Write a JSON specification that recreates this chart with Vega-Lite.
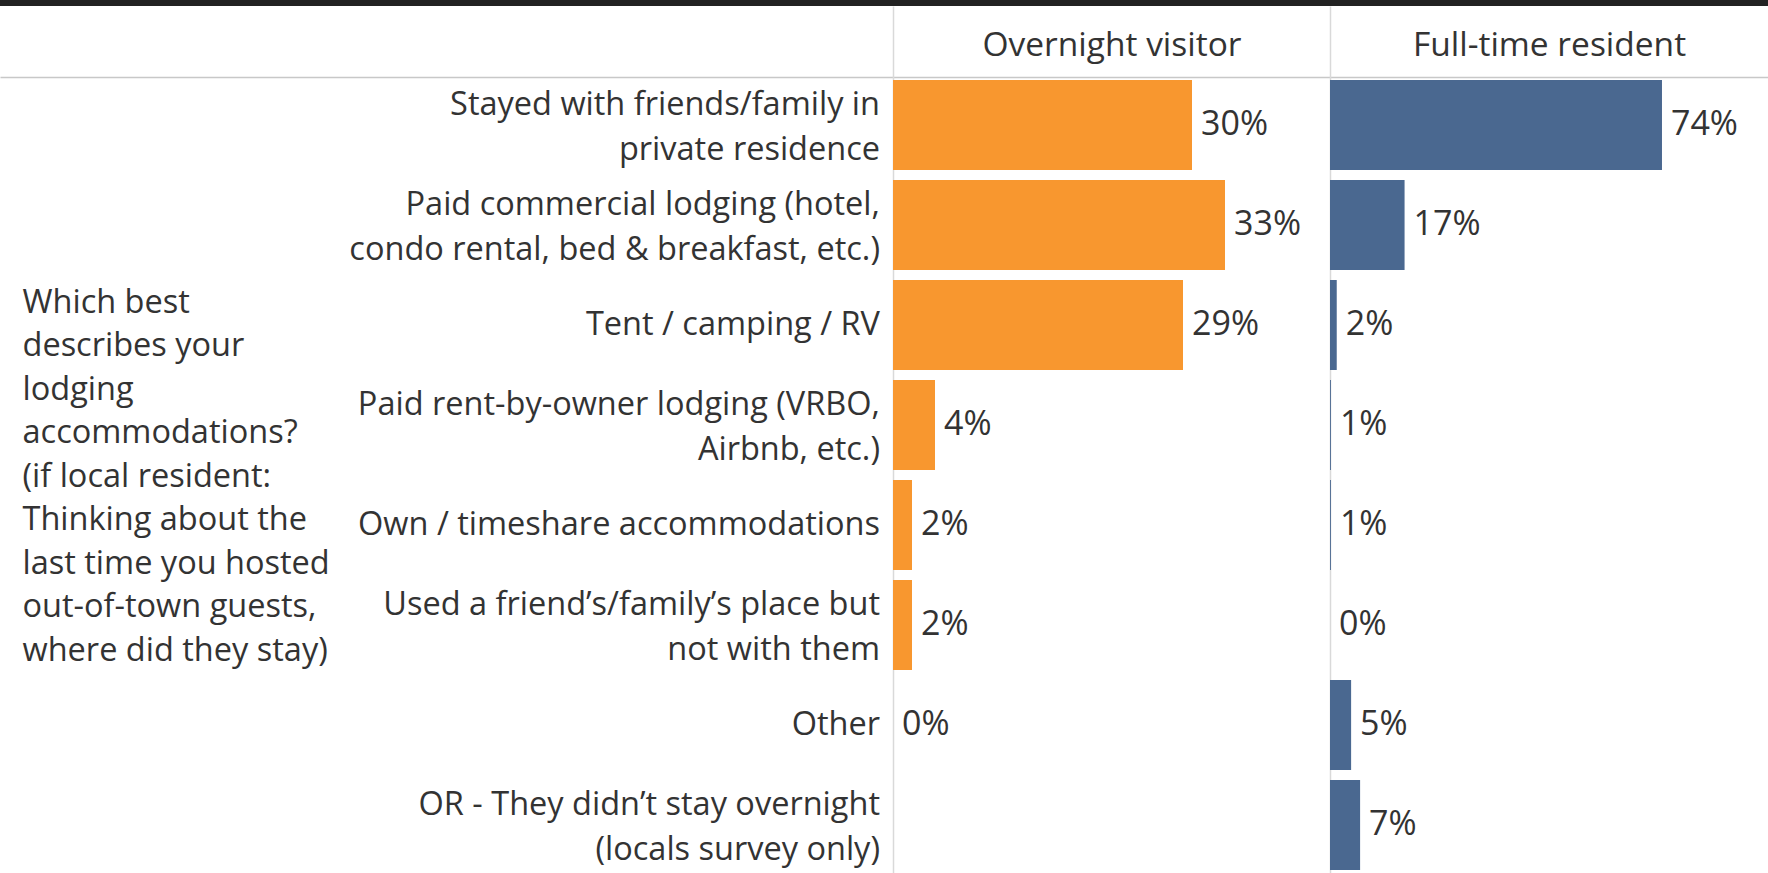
{
  "$schema": "https://vega.github.io/schema/vega-lite/v6.json",
  "background": "#222222",
  "padding": {"top": 6, "left": 0, "right": 0, "bottom": 0},
  "autosize": {"type": "pad"},
  "spacing": 0,
  "bounds": "flush",
  "config": {"view": {"stroke": null, "fill": "#ffffff"}, "font": "Open Sans"},
  "datasets": {
    "rows": [
      {"group": "Overnight visitor", "cat": "Stayed with friends/family in|private residence", "value": 29.9, "label": "30%"},
      {"group": "Overnight visitor", "cat": "Paid commercial lodging (hotel,|condo rental, bed & breakfast, etc.)", "value": 33.2, "label": "33%"},
      {"group": "Overnight visitor", "cat": "Tent / camping / RV", "value": 29.0, "label": "29%"},
      {"group": "Overnight visitor", "cat": "Paid rent-by-owner lodging (VRBO,|Airbnb, etc.)", "value": 4.2, "label": "4%"},
      {"group": "Overnight visitor", "cat": "Own / timeshare accommodations", "value": 1.9, "label": "2%"},
      {"group": "Overnight visitor", "cat": "Used a friend’s/family’s place but|not with them", "value": 1.9, "label": "2%"},
      {"group": "Overnight visitor", "cat": "Other", "value": 0, "label": "0%"},
      {"group": "Full-time resident", "cat": "Stayed with friends/family in|private residence", "value": 73.9, "label": "74%"},
      {"group": "Full-time resident", "cat": "Paid commercial lodging (hotel,|condo rental, bed & breakfast, etc.)", "value": 16.6, "label": "17%"},
      {"group": "Full-time resident", "cat": "Tent / camping / RV", "value": 1.5, "label": "2%"},
      {"group": "Full-time resident", "cat": "Paid rent-by-owner lodging (VRBO,|Airbnb, etc.)", "value": 0.2, "label": "1%"},
      {"group": "Full-time resident", "cat": "Own / timeshare accommodations", "value": 0.2, "label": "1%"},
      {"group": "Full-time resident", "cat": "Used a friend’s/family’s place but|not with them", "value": 0, "label": "0%"},
      {"group": "Full-time resident", "cat": "Other", "value": 4.7, "label": "5%"},
      {"group": "Full-time resident", "cat": "OR - They didn’t stay overnight|(locals survey only)", "value": 6.7, "label": "7%"}
    ]
  },
  "data": {"name": "rows"},
  "resolve": {"scale": {"x": "independent", "y": "independent"}},
  "hconcat": [
    {
      "width": 893,
      "height": 867,
      "transform": [{"filter": "datum.group === 'Full-time resident'"}],
      "encoding": {
        "x": {"value": "width"},
        "y": {
          "field": "cat", "type": "nominal", "sort": null, "bandPosition": 0.5,
          "scale": {"type": "band", "domain": ["Stayed with friends/family in|private residence", "Paid commercial lodging (hotel,|condo rental, bed & breakfast, etc.)", "Tent / camping / RV", "Paid rent-by-owner lodging (VRBO,|Airbnb, etc.)", "Own / timeshare accommodations", "Used a friend’s/family’s place but|not with them", "Other", "OR - They didn’t stay overnight|(locals survey only)"], "paddingInner": 0.1, "paddingOuter": 0.385, "align": 0.961},
          "axis": {
            "labels": false, "ticks": false, "domain": false,
            "grid": true, "bandPosition": -0.033, "gridColor": "#c8c8c8", "gridWidth": 1.5,
            "gridOpacity": {"condition": {"test": "datum.value === 'Stayed with friends/family in|private residence'", "value": 1}, "value": 0},
            "title": ["Which best", "describes your", "lodging", "accommodations?", "(if local resident:", "Thinking about the", "last time you hosted", "out-of-town guests,", "where did they stay)"],
            "titleAngle": 0, "titleAlign": "left", "titleBaseline": "alphabetic", "titleX": 22, "titleY": 306,
            "titleFontSize": 32.5, "titleFontWeight": "normal", "titleColor": "#333333", "titleFont": "Open Sans", "titleLineHeight": 43.5
          }
        },
        "text": {"field": "cat"}
      },
      "layer": [
        {
          "transform": [{"filter": "indexof(datum.cat, '|') < 0"}],
          "mark": {"type": "text", "align": "right", "baseline": "middle", "dx": -13, "fontSize": 32.5, "lineBreak": "|", "lineHeight": 45, "color": "#333333", "font": "Open Sans"}
        },
        {
          "transform": [{"filter": "indexof(datum.cat, '|') >= 0"}],
          "mark": {"type": "text", "align": "right", "baseline": "middle", "dx": -13, "dy": -20, "fontSize": 32.5, "lineBreak": "|", "lineHeight": 45, "color": "#333333", "font": "Open Sans"}
        }
      ]
    },
    {
      "width": 437,
      "height": 867,
      "transform": [{"filter": "datum.group === 'Overnight visitor'"}],
      "encoding": {
        "y": {
          "field": "cat", "type": "nominal", "sort": null,
          "scale": {"type": "band", "domain": ["Stayed with friends/family in|private residence", "Paid commercial lodging (hotel,|condo rental, bed & breakfast, etc.)", "Tent / camping / RV", "Paid rent-by-owner lodging (VRBO,|Airbnb, etc.)", "Own / timeshare accommodations", "Used a friend’s/family’s place but|not with them", "Other", "OR - They didn’t stay overnight|(locals survey only)"], "paddingInner": 0.1, "paddingOuter": 0.385, "align": 0.961},
          "axis": {
            "labels": false, "ticks": false, "domain": true, "domainColor": "#d9d9d9", "domainWidth": 1.5,
            "grid": true, "bandPosition": -0.033, "gridColor": "#c8c8c8", "gridWidth": 1.5,
            "gridOpacity": {"condition": {"test": "datum.value === 'Stayed with friends/family in|private residence'", "value": 1}, "value": 0},
            "title": null
          }
        },
        "x": {
          "field": "value", "type": "quantitative",
          "scale": {"domain": [0, 43.7], "nice": false, "zero": true},
          "axis": {"orient": "top", "labels": false, "ticks": false, "domain": false, "grid": false, "title": "Overnight visitor", "titleY": 49, "titleBaseline": "alphabetic", "titleFontSize": 33.5, "titleFontWeight": "normal", "titleColor": "#333333", "titleFont": "Open Sans"}
        }
      },
      "layer": [
        {"mark": {"type": "bar", "color": "#F8972F"}},
        {"mark": {"type": "text", "align": "left", "baseline": "middle", "dx": 9, "fontSize": 34, "color": "#333333", "font": "Open Sans"}, "encoding": {"text": {"field": "label"}}}
      ]
    },
    {
      "width": 438,
      "height": 867,
      "transform": [{"filter": "datum.group === 'Full-time resident'"}],
      "encoding": {
        "y": {
          "field": "cat", "type": "nominal", "sort": null,
          "scale": {"type": "band", "domain": ["Stayed with friends/family in|private residence", "Paid commercial lodging (hotel,|condo rental, bed & breakfast, etc.)", "Tent / camping / RV", "Paid rent-by-owner lodging (VRBO,|Airbnb, etc.)", "Own / timeshare accommodations", "Used a friend’s/family’s place but|not with them", "Other", "OR - They didn’t stay overnight|(locals survey only)"], "paddingInner": 0.1, "paddingOuter": 0.385, "align": 0.961},
          "axis": {
            "labels": false, "ticks": false, "domain": true, "domainColor": "#d9d9d9", "domainWidth": 1.5,
            "grid": true, "bandPosition": -0.033, "gridColor": "#c8c8c8", "gridWidth": 1.5,
            "gridOpacity": {"condition": {"test": "datum.value === 'Stayed with friends/family in|private residence'", "value": 1}, "value": 0},
            "title": null
          }
        },
        "x": {
          "field": "value", "type": "quantitative",
          "scale": {"domain": [0, 97.5], "nice": false, "zero": true},
          "axis": {"orient": "top", "labels": false, "ticks": false, "domain": false, "grid": false, "title": "Full-time resident", "titleY": 49, "titleBaseline": "alphabetic", "titleFontSize": 33.5, "titleFontWeight": "normal", "titleColor": "#333333", "titleFont": "Open Sans"}
        }
      },
      "layer": [
        {"mark": {"type": "bar", "color": "#4A6890"}},
        {"mark": {"type": "text", "align": "left", "baseline": "middle", "dx": 9, "fontSize": 34, "color": "#333333", "font": "Open Sans"}, "encoding": {"text": {"field": "label"}}}
      ]
    }
  ]
}
